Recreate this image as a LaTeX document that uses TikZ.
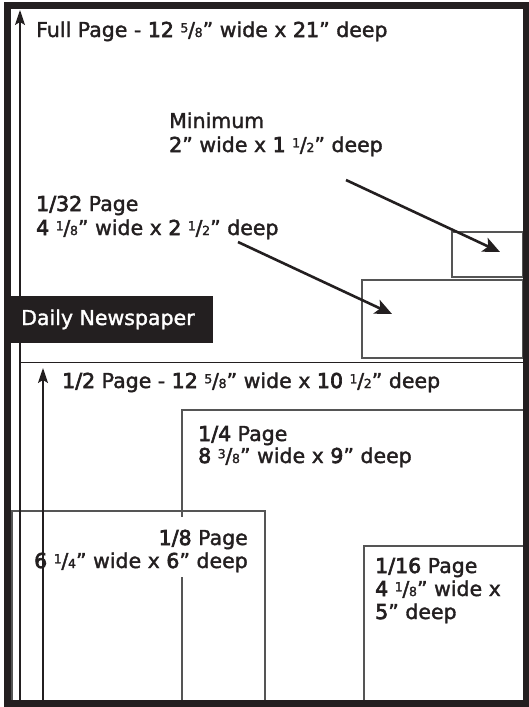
\documentclass[tikz,border=0pt]{standalone}
\usepackage{fontspec}
\setmainfont{DejaVu Sans}[FakeBold=1.6]
\newfontfamily\digfont{DejaVu Sans}[FakeBold=3.2]
\usetikzlibrary{arrows.meta}
\definecolor{ink}{HTML}{231F20}
\definecolor{boxline}{HTML}{555555}
\newcommand\fra[2]{\raisebox{0.42ex}{\fontsize{12.5}{12.5}\selectfont #1}\kern-0.3pt/\kern-0.3pt{\fontsize{12.5}{12.5}\selectfont #2}}
\newcommand\bd[1]{{\digfont #1}}
\tikzset{
  frameline/.style={line width=7pt, ink},
  boxedge/.style={line width=1.2pt, boxline},
  thinline/.style={line width=1pt, ink},
  uparrow/.style={line width=1.3pt, ink, -{Stealth[length=15pt,width=10pt,inset=3pt]}},
  ptrarrow/.style={line width=2.6pt, ink, -{Stealth[length=17pt,width=15pt,inset=4pt]}},
  lbl/.style={font=\fontsize{20.5}{24}\selectfont, text=ink, inner sep=0pt, anchor=base west},
}
\begin{document}
\begin{tikzpicture}[x=1pt,y=-1pt]
\useasboundingbox (0,0) rectangle (529,707);
% inner boxes
\draw[boxedge] (362,280) rectangle (523,358);
\draw[boxedge] (452,232) rectangle (523,277);
\draw[thinline] (20,362) -- (523,362);
\draw[boxedge] (523,410) -- (182,410) -- (182,517);
\draw[boxedge] (182,577) -- (182,700);
\draw[boxedge] (523,546) -- (364,546) -- (364,700);
\draw[boxedge] (12,700) -- (12,511) -- (265,511) -- (265,700);
% frame
\draw[frameline] (7.5,5.5) rectangle (526.5,703.5);
% daily newspaper tag
\node[fill=ink, minimum width=206pt, minimum height=47pt, anchor=north west, inner sep=0pt] (tag) at (7,296) {};
\node[lbl, text=white] (tagtext) at (21,325) {Daily Newspaper};
% coordinates for arrows
\coordinate (fpbot) at (20,700);
\coordinate (fptop) at (20,10);
\coordinate (hpbot) at (43,700);
\coordinate (hptop) at (43,368);
\coordinate (minfrom) at (346,180);
\coordinate (minto) at (500,252);
\coordinate (tsfrom) at (238,242);
\coordinate (tsto) at (392,314);
\draw[uparrow] (fpbot) -- (fptop);
\draw[uparrow] (hpbot) -- (hptop);
\draw[ptrarrow] (minfrom) -- (minto);
\draw[ptrarrow] (tsfrom) -- (tsto);
% labels
\node[lbl] (full) at (36,37) {Full Page - \bd{12} \fra{5}{8}” wide x \bd{21}” deep};
\node[lbl] (min1) at (169,128) {Minimum};
\node[lbl] (min2) at (169,152) {\bd{2}” wide x \bd{1} \fra{1}{2}” deep};
\node[lbl] (ts1) at (36,211) {\bd{1/32} Page};
\node[lbl] (ts2) at (36,235) {\bd{4} \fra{1}{8}” wide x \bd{2} \fra{1}{2}” deep};
\node[lbl] (half) at (62,388) {\bd{1/2} Page - \bd{12} \fra{5}{8}” wide x \bd{10} \fra{1}{2}” deep};
\node[lbl] (q1) at (198,441) {\bd{1/4} Page};
\node[lbl] (q2) at (198,463) {\bd{8} \fra{3}{8}” wide x \bd{9}” deep};
\node[lbl, anchor=base east] (e1) at (248,545) {\bd{1/8} Page};
\node[lbl, anchor=base east] (e2) at (248,568) {\bd{6} \fra{1}{4}” wide x \bd{6}” deep};
\node[lbl] (s1) at (375,573) {\bd{1/16} Page};
\node[lbl] (s2) at (375,596) {\bd{4} \fra{1}{8}” wide x};
\node[lbl] (s3) at (375,619) {\bd{5}” deep};
\end{tikzpicture}
\end{document}
